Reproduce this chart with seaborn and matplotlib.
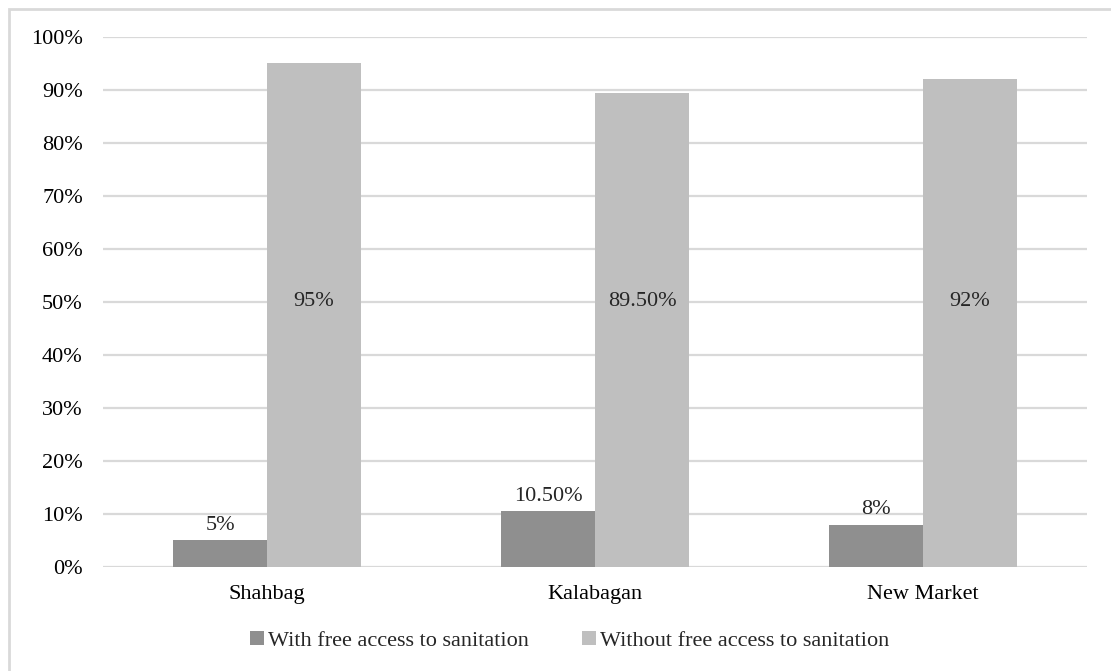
import matplotlib
matplotlib.use("Agg")
import matplotlib.pyplot as plt
from matplotlib.patches import Rectangle
from matplotlib.ticker import MultipleLocator, FuncFormatter
import seaborn as sns
import pandas as pd

# Survey results per market area
areas = ["Shahbag", "Kalabagan", "New Market"]
with_access = [5.0, 10.5, 8.0]
without_access = [95.0, 89.5, 92.0]
with_labels = ["5%", "10.50%", "8%"]
without_labels = ["95%", "89.50%", "92%"]
series_names = ["With free access to sanitation", "Without free access to sanitation"]

df = pd.DataFrame({
    "area": areas * 2,
    "share": with_access + without_access,
    "group": [series_names[0]] * 3 + [series_names[1]] * 3,
})

sns.set_style("white")
plt.rcParams["font.family"] = ["Liberation Serif", "DejaVu Serif"]
FS = 16

fig = plt.figure(figsize=(11.11, 6.71), dpi=100)
ax = fig.add_axes([0.0927, 0.155, 0.8857, 0.7899])

sns.barplot(data=df, x="area", y="share", hue="group",
            palette=["#8f8f8f", "#bfbfbf"], width=0.573, saturation=1,
            gap=0, linewidth=0, ax=ax, legend=True, zorder=3)

ax.set_ylim(0, 100)
ax.set_xlim(-0.5, 2.5)
ax.yaxis.set_major_locator(MultipleLocator(10))
ax.yaxis.set_major_formatter(FuncFormatter(lambda v, _: f"{v:.0f}%"))
ax.grid(axis="y", color="#d9d9d9", linewidth=1.6, zorder=0)
ax.set_axisbelow(True)
for s in ax.spines.values():
    s.set_visible(False)
ax.tick_params(axis="both", length=0, labelsize=FS, colors="#000000")
ax.tick_params(axis="y", pad=14.5)
ax.tick_params(axis="x", pad=13)
ax.set_xlabel("")
ax.set_ylabel("")

# Value labels
dark_bars, light_bars = ax.containers[0], ax.containers[1]
for bar, v, lab in zip(dark_bars, with_access, with_labels):
    ax.text(bar.get_x() + bar.get_width() / 2, v + 1.0, lab,
            ha="center", va="bottom", fontsize=FS)
for bar, v, lab in zip(light_bars, without_access, without_labels):
    ax.text(bar.get_x() + bar.get_width() / 2, 50, lab,
            ha="center", va="center", fontsize=FS)

handles, labels = ax.get_legend_handles_labels()
ax.get_legend().remove()
fig.legend(handles, labels, loc="center", bbox_to_anchor=(570 / 1111, 1 - 641 / 671),
           ncol=2, frameon=False, fontsize=FS, handlelength=0.6, handleheight=0.6,
           handletextpad=0.2, columnspacing=2.4)

# Outer chart frame
fig.patches.append(Rectangle((9 / 1111, -0.05), 1.2, 1 - 9 / 671 + 0.05,
                             transform=fig.transFigure, fill=False,
                             edgecolor="#d9d9d9", linewidth=2))

fig.savefig("out.png", dpi=100, facecolor="white")
